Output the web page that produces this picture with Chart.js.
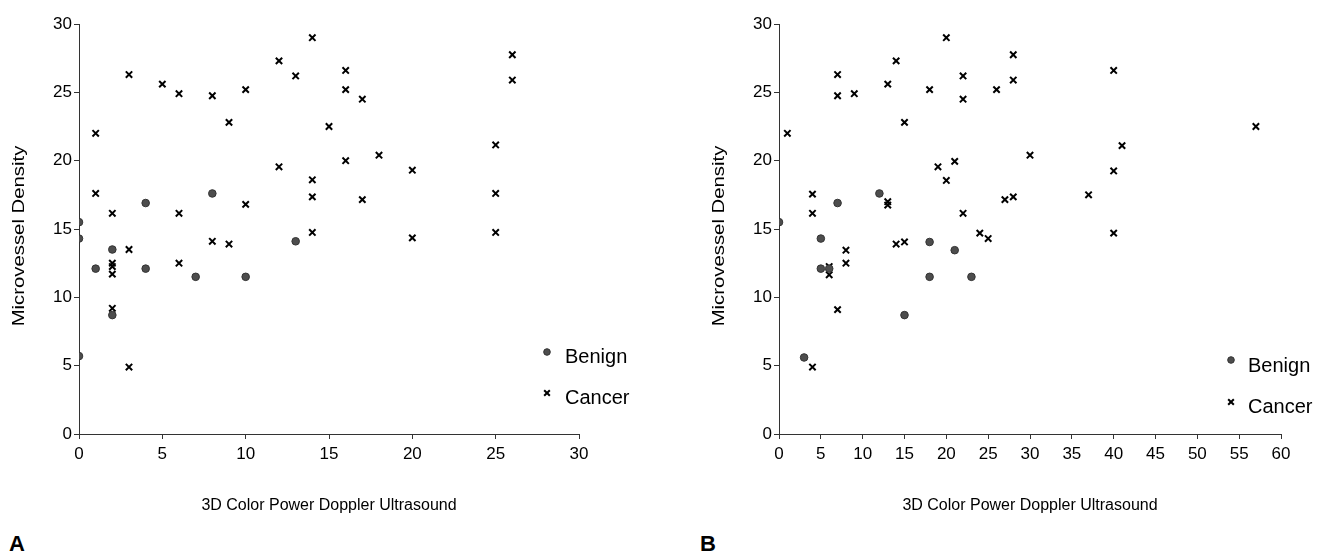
<!DOCTYPE html>
<html>
<head>
<meta charset="utf-8">
<script src="https://cdn.jsdelivr.net/npm/chart.js@4.4.1/dist/chart.umd.min.js"></script>
<style>
  html, body { margin: 0; padding: 0; background: #fff; }
  body { width: 1317px; height: 555px; position: relative; overflow: hidden; font-family: "Liberation Sans", Arial, sans-serif; }
  .box { position: absolute; top: 0; height: 530px; }
  #boxA { left: 0; width: 650px; }
  #boxB { left: 700px; width: 617px; }
  .tag { position: absolute; top: 533px; font: bold 22px "Liberation Sans", Arial, sans-serif; line-height: 22px; }
</style>
</head>
<body>
<div class="box" id="boxA"><canvas id="chartA"></canvas></div>
<div class="box" id="boxB"><canvas id="chartB"></canvas></div>
<div class="tag" style="left:9px">A</div>
<div class="tag" style="left:700px">B</div>
<script>
// panel A: [ultrasound, microvessel density]
const benignA = [[0, 15.5], [0, 14.3], [0, 5.7], [1, 12.1], [2, 13.5], [2, 8.7], [4, 16.9], [4, 12.1],
  [7, 11.5], [8, 17.6], [10, 11.5], [13, 14.1]];
const cancerA = [[1, 22], [1, 17.6], [2, 16.15], [2, 12.5], [2, 12.25], [2, 11.7], [2, 9.2], [3, 26.3],
  [3, 13.5], [3, 4.9], [5, 25.6], [6, 24.9], [6, 16.15], [6, 12.5], [8, 24.75], [8, 14.1], [9, 22.8],
  [9, 13.9], [10, 25.2], [10, 16.8], [12, 27.3], [12, 19.55], [13, 26.2], [14, 29], [14, 18.6],
  [14, 17.35], [14, 14.75], [15, 22.5], [16, 26.6], [16, 25.2], [16, 20], [17, 24.5], [17, 17.15],
  [18, 20.4], [20, 19.3], [20, 14.35], [25, 21.15], [25, 17.6], [25, 14.75], [26, 27.75], [26, 25.9]];

// panel B
const benignB = [[0, 15.5], [3, 5.6], [5, 14.3], [5, 12.1], [6, 12.1], [7, 16.9], [12, 17.6], [15, 8.7],
  [18, 14.05], [18, 11.5], [21, 13.45], [23, 11.5]];
const cancerB = [[1, 22], [4, 17.55], [4, 16.15], [4, 4.9], [6, 12.25], [6, 11.65], [7, 26.3], [7, 24.75],
  [7, 9.1], [8, 13.45], [8, 12.5], [9, 24.9], [13, 25.6], [13, 17], [13, 16.75], [14, 27.3], [14, 13.9],
  [15, 22.8], [15, 14.05], [18, 25.2], [19, 19.55], [20, 29], [20, 18.55], [21, 19.95], [22, 26.2],
  [22, 24.5], [22, 16.15], [24, 14.7], [25, 14.3], [26, 25.2], [27, 17.15], [28, 27.75], [28, 25.9],
  [28, 17.35], [30, 20.4], [37, 17.5], [40, 26.6], [40, 19.25], [40, 14.7], [41, 21.1], [57, 22.5]];

const xTicksA = [0, 5, 10, 15, 20, 25, 30];
const xTicksB = [0, 5, 10, 15, 20, 25, 30, 35, 40, 45, 50, 55, 60];
const yTicks = [0, 5, 10, 15, 20, 25, 30];

const FONT = '"Liberation Sans", Arial, sans-serif';

// legend drawn inside the plot, offsets from the chart area's bottom-right corner
const cornerLegend = {
  id: 'cornerLegend',
  afterDatasetsDraw(chart, args, opts) {
    const { ctx, chartArea } = chart;
    ctx.save();
    ctx.font = '20px ' + FONT;
    ctx.textBaseline = 'middle';
    opts.rows.forEach((row, i) => {
      const ds = chart.data.datasets[i];
      ctx.fillStyle = ds.backgroundColor;
      ctx.strokeStyle = ds.borderColor;
      ctx.lineWidth = ds.borderWidth;
      Chart.helpers.drawPoint(ctx, {
        pointStyle: ds.pointStyle, radius: ds.pointRadius - 0.5, borderWidth: ds.borderWidth, rotation: 0
      }, chartArea.right + row.mx, chartArea.bottom + row.my);
      ctx.fillStyle = '#000';
      ctx.fillText(ds.label, chartArea.right + row.tx, chartArea.bottom + row.ty);
    });
    ctx.restore();
  }
};

// the y title in the figure is drawn stretched along its length
const stretchedYTitle = {
  id: 'stretchedYTitle',
  afterDraw(chart, args, opts) {
    const { ctx, chartArea } = chart;
    ctx.save();
    ctx.translate(chartArea.left - 59, chartArea.top + 212);
    ctx.rotate(-Math.PI / 2);
    ctx.scale(1.27, 1);
    ctx.font = '16px ' + FONT;
    ctx.fillStyle = '#000';
    ctx.textAlign = 'center';
    ctx.textBaseline = 'middle';
    ctx.fillText(opts.text, 0, 0);
    ctx.restore();
  }
};

function toPoints(pairs) {
  return pairs.map(p => ({ x: p[0], y: p[1] }));
}

function makeChart(id, benign, cancer, xTicks, padRight, legendRows) {
  const xMax = xTicks[xTicks.length - 1];
  return new Chart(document.getElementById(id), {
    type: 'scatter',
    data: {
      datasets: [{
        label: 'Benign',
        data: toPoints(benign),
        pointStyle: 'circle',
        pointRadius: 3.8,
        backgroundColor: '#4d4d4d',
        borderColor: '#333',
        borderWidth: 1
      }, {
        label: 'Cancer',
        data: toPoints(cancer),
        pointStyle: 'crossRot',
        pointRadius: 4.5,
        backgroundColor: '#000',
        borderColor: '#000',
        borderWidth: 2
      }]
    },
    options: {
      responsive: true,
      maintainAspectRatio: false,
      animation: false,
      events: [],
      layout: { padding: { top: 24, right: padRight, bottom: 0, left: 0 } },
      plugins: {
        legend: { display: false },
        tooltip: { enabled: false },
        cornerLegend: { rows: legendRows },
        stretchedYTitle: { text: 'Microvessel Density' }
      },
      scales: {
        x: {
          type: 'linear',
          min: 0,
          max: xMax,
          afterBuildTicks: s => { s.ticks = xTicks.map(v => ({ value: v })); },
          afterFit: s => { s.height = 96; },
          grid: { drawOnChartArea: false, drawTicks: true, tickLength: 5, color: '#333' },
          border: { display: true, color: '#333', width: 1 },
          ticks: { color: '#000', font: { family: FONT, size: 17 }, padding: 5, maxRotation: 0, autoSkip: false },
          title: { display: true, text: '3D Color Power Doppler Ultrasound', color: '#000',
            font: { family: FONT, size: 16 }, padding: { top: 0, bottom: 15 } }
        },
        y: {
          type: 'linear',
          min: 0,
          max: 30,
          afterBuildTicks: s => { s.ticks = yTicks.map(v => ({ value: v })); },
          afterFit: s => { s.width = 79; },
          grid: { drawOnChartArea: false, drawTicks: true, tickLength: 5, color: '#333' },
          border: { display: true, color: '#333', width: 1 },
          ticks: { color: '#000', font: { family: FONT, size: 17 }, padding: 2 },
          title: { display: false }
        }
      }
    },
    plugins: [cornerLegend, stretchedYTitle]
  });
}

makeChart('chartA', benignA, cancerA, xTicksA, 71, [
  { mx: -32, my: -82, tx: -14, ty: -77 },
  { mx: -32, my: -41, tx: -14, ty: -36 }
]);
makeChart('chartB', benignB, cancerB, xTicksB, 36, [
  { mx: -50, my: -74, tx: -33, ty: -68 },
  { mx: -50, my: -32, tx: -33, ty: -27 }
]);
</script>
</body>
</html>
